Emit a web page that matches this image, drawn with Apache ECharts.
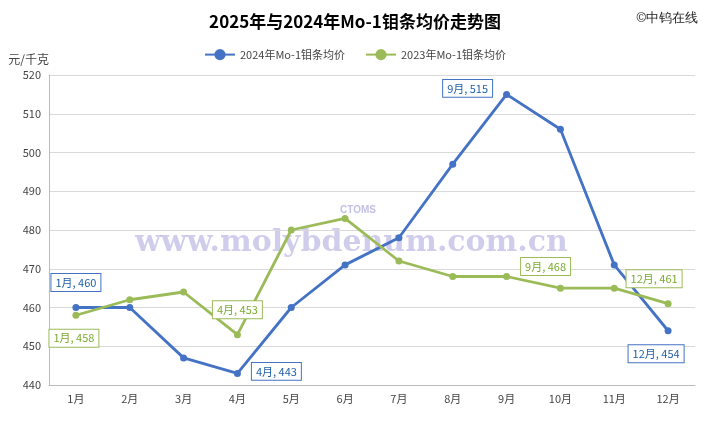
<!DOCTYPE html>
<html><head><meta charset="utf-8">
<script src="https://cdn.jsdelivr.net/npm/echarts@6/dist/echarts.min.js"></script>
<style>html,body{margin:0;padding:0;background:#fff}#c{width:710px;height:426px}</style>
</head><body><div id="c"></div>
<script>
const categories=['1月','2月','3月','4月','5月','6月','7月','8月','9月','10月','11月','12月'];
const s2024=[460,460,447,443,460,471,478,497,515,506,471,454];
const s2023=[458,462,464,453,480,483,472,468,468,465,465,461];
const yTicks={min:440,max:520,interval:10};
const blue='#4472C4',green='#9BBB59';
function lab(color,pos,offset){
  return {show:true,position:pos,offset:offset,formatter:p=>p.name+', '+p.value,
    color:color==blue?'#1F5FA8':'#7AAA2E',fontSize:11,backgroundColor:'#fff',borderColor:color,borderWidth:1,padding:[3,4]};
}
const bLabels={0:lab(blue,'top',[0,-8]),3:lab(blue,'right',[6,-2]),8:lab(blue,'left',[-6,-6]),11:lab(blue,'bottom',[-12,6])};
const gLabels={0:lab(green,'bottom',[-2,6]),3:lab(green,'top',[0,-8]),8:lab(green,'right',[6,-10]),11:lab(green,'top',[-14,-8])};
const chart=echarts.init(document.getElementById('c'));
chart.setOption({
  animation:false,
  textStyle:{fontFamily:'Noto Sans CJK SC'},
  title:{text:'2025年与2024年Mo-1钼条均价走势图',left:'center',top:8,textStyle:{fontSize:17,fontWeight:'bold',color:'#000'}},
  graphic:[
    {type:'text',right:12,top:12,style:{text:'©中钨在线',fontSize:13,fill:'#222'}},
    {type:'text',left:135,top:228,style:{text:'www.molybdenum.com.cn',fontSize:30,fontFamily:'DejaVu Serif',fontWeight:'bold',fill:'rgba(120,110,200,0.35)'}},
    {type:'text',left:340,top:205,style:{text:'CTOMS',fontSize:10,fontWeight:'bold',fill:'rgba(120,110,200,0.45)'}}
  ],
  legend:{top:44,left:'center',itemWidth:30,itemGap:20,textStyle:{fontSize:11,color:'#444'},
    data:['2024年Mo-1钼条均价','2023年Mo-1钼条均价']},
  grid:{left:49,right:15,top:75,bottom:41},
  xAxis:{type:'category',data:categories,boundaryGap:true,
    axisLine:{lineStyle:{color:'#bbb'}},axisTick:{show:false},axisLabel:{color:'#444',fontSize:11}},
  yAxis:{type:'value',min:yTicks.min,max:yTicks.max,interval:yTicks.interval,name:'元/千克',
    nameLocation:'end',nameGap:10,nameTextStyle:{align:'right',color:'#444',fontSize:12},
    axisLabel:{color:'#444',fontSize:11},splitLine:{lineStyle:{color:'#d9d9d9'}},
    axisLine:{show:true,lineStyle:{color:'#bbb'}}},
  series:[
    {name:'2024年Mo-1钼条均价',type:'line',data:s2024.map((v,i)=>({value:v,label:bLabels[i]||{show:false}})),
      color:blue,lineStyle:{width:2.8},symbol:'circle',symbolSize:7,itemStyle:{color:blue}},
    {name:'2023年Mo-1钼条均价',type:'line',data:s2023.map((v,i)=>({value:v,label:gLabels[i]||{show:false}})),
      color:green,lineStyle:{width:2.8},symbol:'circle',symbolSize:7,itemStyle:{color:green}}
  ]
});
</script></body></html>
